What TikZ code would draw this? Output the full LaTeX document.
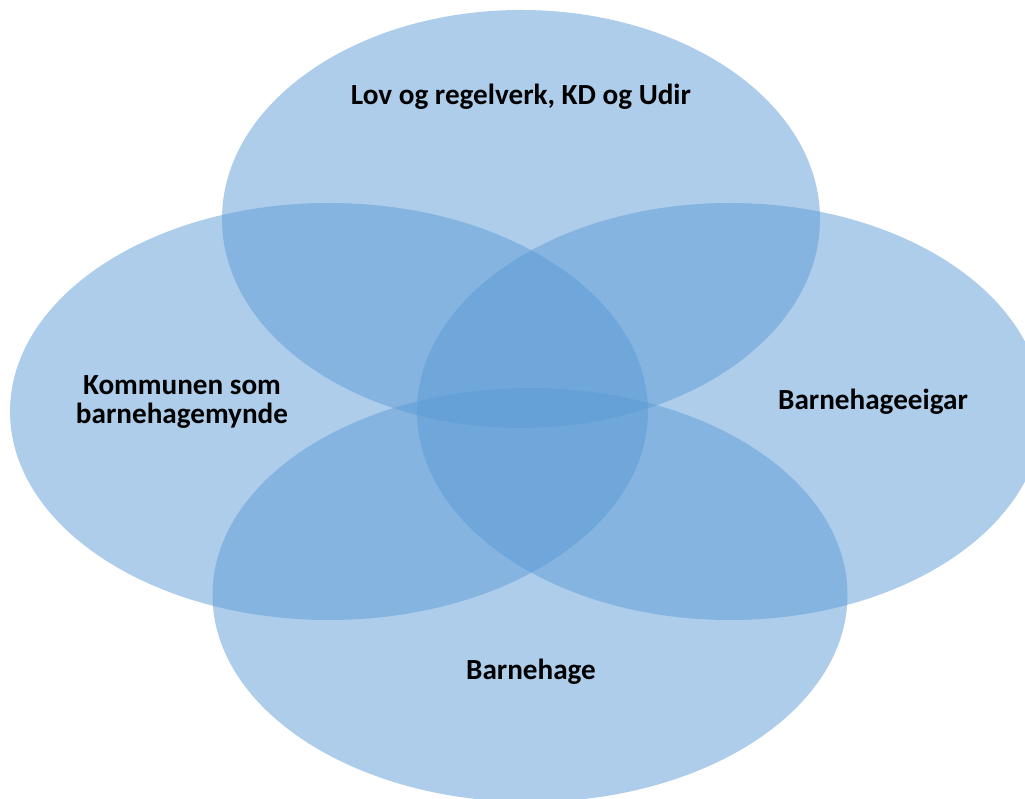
\documentclass[tikz,border=0pt]{standalone}
\usepackage{fontspec}
\setmainfont{Carlito}
\usetikzlibrary{positioning,shapes.geometric}
\definecolor{vennblue}{HTML}{5B9BD5}
\tikzset{
    venn/.style={
    ellipse,
    inner sep=0pt,
    fill=vennblue,
    fill opacity=0.5,
    draw=none
  },
    vennlabel/.style={
    font=\fontsize{16.6}{16}\selectfont\bfseries,
    align=center,
    text=black
  }
}
\begin{document}
\begin{tikzpicture}
  \useasboundingbox (0,0) rectangle (20.5,15.96);
  \node[venn,minimum width=11.96cm,minimum height=8.36cm] (e_top) at (10.42,11.58) {};
  \node[venn,minimum width=12.76cm,minimum height=8.34cm] (e_left) at (6.58,7.73) {};
  \node[venn,minimum width=12.52cm,minimum height=8.34cm] (e_right) at (14.6,7.73) {};
  \node[venn,minimum width=12.70cm,minimum height=8.28cm] (e_bottom) at (10.60,4.06) {};

  \node[vennlabel] (l_top) at (10.42,14.02) {Lov og regelverk, KD og Udir};
  \node[vennlabel] (l_left) at (3.64,7.92) {Kommunen som\\barnehagemynde};
  \node[vennlabel] (l_right) at (17.46,7.92) {Barnehageeigar};
  \node[vennlabel] (l_bottom) at (10.62,2.52) {Barnehage};
\end{tikzpicture}
\end{document}
